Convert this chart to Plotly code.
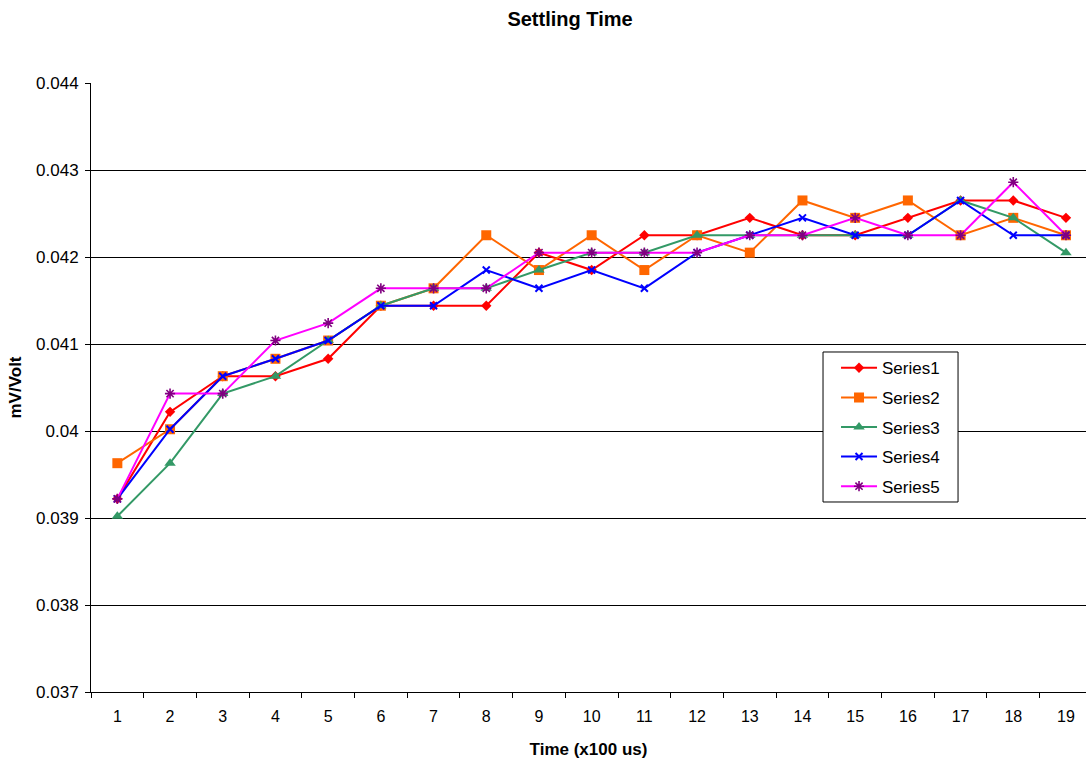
import plotly.graph_objects as go

# Sample index along the time axis (units of 100 us)
time_steps = ["1", "2", "3", "4", "5", "6", "7", "8", "9", "10",
              "11", "12", "13", "14", "15", "16", "17", "18", "19"]

series1 = [0.03922, 0.04022, 0.04063, 0.04063, 0.04083, 0.04144, 0.04144, 0.04144, 0.04205, 0.04185,
           0.04225, 0.04225, 0.04245, 0.04225, 0.04225, 0.04245, 0.04265, 0.04265, 0.04245]
series2 = [0.03963, 0.04002, 0.04063, 0.04083, 0.04104, 0.04144, 0.04164, 0.04225, 0.04185, 0.04225,
           0.04185, 0.04225, 0.04205, 0.04265, 0.04245, 0.04265, 0.04225, 0.04245, 0.04225]
series3 = [0.03902, 0.03963, 0.04043, 0.04063, 0.04104, 0.04144, 0.04164, 0.04164, 0.04185, 0.04205,
           0.04205, 0.04225, 0.04225, 0.04225, 0.04225, 0.04225, 0.04265, 0.04245, 0.04205]
series4 = [0.03922, 0.04002, 0.04063, 0.04083, 0.04104, 0.04144, 0.04144, 0.04185, 0.04164, 0.04185,
           0.04164, 0.04205, 0.04225, 0.04245, 0.04225, 0.04225, 0.04265, 0.04225, 0.04225]
series5 = [0.03922, 0.04043, 0.04043, 0.04104, 0.04124, 0.04164, 0.04164, 0.04164, 0.04205, 0.04205,
           0.04205, 0.04205, 0.04225, 0.04225, 0.04245, 0.04225, 0.04225, 0.04286, 0.04225]

y_tick_vals = [0.037, 0.038, 0.039, 0.040, 0.041, 0.042, 0.043, 0.044]
y_tick_text = ["0.037", "0.038", "0.039", "0.04", "0.041", "0.042", "0.043", "0.044"]

FONT = "Liberation Sans, Arial, Helvetica, sans-serif"

# name, values, line colour, marker symbol, marker colour, marker size, marker line width
styles = [
    ("Series1", series1, "#FF0000", "diamond", "#FF0000", 8, 0),
    ("Series2", series2, "#FF6600", "square", "#FF6600", 10, 0),
    ("Series3", series3, "#339966", "triangle-up", "#339966", 10, 0),
    ("Series4", series4, "#0000FF", "x-thin-open", "#0000FF", 7, 2),
    ("Series5", series5, "#FF00FF", "asterisk-open", "#800080", 8.5, 1.6),
]

fig = go.Figure()
for i, (name, vals, lcol, sym, mcol, msize, mlw) in enumerate(styles):
    fig.add_trace(go.Scatter(
        x=time_steps, y=vals, name=name, mode="lines+markers",
        legendgroup=f"g{i}",
        line=dict(color=lcol, width=2),
        marker=dict(symbol=sym, size=msize, color=mcol,
                    line=dict(color=mcol, width=mlw)),
    ))

# White framed panel behind the legend entries
fig.add_shape(type="rect", xref="paper", yref="paper",
              x0=0.7357, x1=0.8714, y0=0.312, y1=0.5583,
              fillcolor="white", line=dict(color="black", width=1), layer="above")

fig.update_layout(
    width=1086, height=759,
    margin=dict(l=91, r=0, t=83, b=67),
    paper_bgcolor="white", plot_bgcolor="white",
    font=dict(family=FONT, size=16, color="black"),
    title=dict(text="<b>Settling Time</b>", font=dict(size=20, family=FONT),
               x=570 / 1086, xref="container", xanchor="center",
               y=1 - 18.5 / 759, yref="container", yanchor="middle"),
    showlegend=True,
    legend=dict(x=0.7357, y=0.5612, xanchor="left", yanchor="top",
                borderwidth=0, bgcolor="rgba(0,0,0,0)",
                font=dict(size=17, family=FONT), tracegroupgap=4.5,
                itemwidth=36, indentation=13),
)

fig.update_xaxes(
    type="category", range=[-0.5, 18.38],
    tickson="boundaries", ticks="outside", ticklen=5, tickcolor="black",
    showline=True, linecolor="black", linewidth=1, showgrid=False,
    tickfont=dict(size=16, family=FONT), ticklabelstandoff=10,
    title=dict(text="<b>Time (x100 us)</b>", font=dict(size=17, family=FONT), standoff=18),
)

fig.update_yaxes(
    range=[0.037, 0.044], tickvals=y_tick_vals, ticktext=y_tick_text,
    ticks="outside", ticklen=5, tickcolor="black",
    showline=True, linecolor="black", linewidth=1,
    showgrid=True, gridcolor="black", gridwidth=1, zeroline=False,
    tickfont=dict(size=17, family=FONT), ticklabelstandoff=3,
    title=dict(text="<b>mV/Volt</b>", font=dict(size=17, family=FONT), standoff=10),
)

fig.write_html("out.html")
